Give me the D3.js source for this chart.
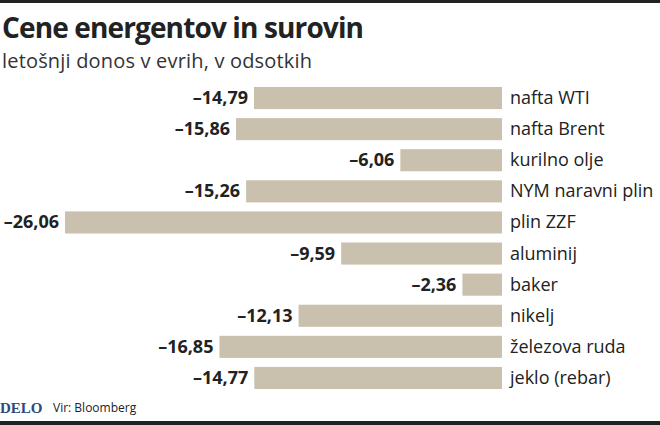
<!DOCTYPE html>
<html><head><meta charset="utf-8">
<script src="https://cdn.jsdelivr.net/npm/d3@7"></script>
<style>body{margin:0;background:#fff}</style>
</head><body>
<svg id="chart"></svg>
<script>
const categories = ["nafta WTI", "nafta Brent", "kurilno olje", "NYM naravni plin", "plin ZZF", "aluminij", "baker", "nikelj", "železova ruda", "jeklo (rebar)"];
const values = [-14.79, -15.86, -6.06, -15.26, -26.06, -9.59, -2.36, -12.13, -16.85, -14.77];

const width = 660, height = 425;
const svg = d3.select("#chart").attr("width", width).attr("height", height);
const font = "'Open Sans', sans-serif";

svg.append("rect").attr("x", 0).attr("y", 0).attr("width", width).attr("height", 3).attr("fill", "#222");
svg.append("rect").attr("x", 0).attr("y", 421).attr("width", width).attr("height", 4).attr("fill", "#222");

svg.append("text").attr("x", 2).attr("y", 38).text("Cene energentov in surovin")
  .style("font-family", font).style("font-weight", 700).style("font-size", "28px").attr("fill", "#222").attr("textLength", 362);
svg.append("text").attr("x", 2).attr("y", 68).text("letošnji donos v evrih, v odsotkih")
  .style("font-family", font).style("font-size", "20px").attr("fill", "#333").attr("textLength", 310);

const x = d3.scaleLinear().domain([-26.06, 0]).range([65, 502]);
const y = d3.scaleBand().domain(categories).range([82.5, 393.5]).paddingInner(0.29).paddingOuter(0.145);

const g = svg.append("g");
g.selectAll("rect.bar").data(values).enter().append("rect")
  .attr("class", "bar")
  .attr("x", d => x(d)).attr("width", d => x(0) - x(d))
  .attr("y", (d, i) => y(categories[i])).attr("height", y.bandwidth())
  .attr("fill", "#c9c0ae");

g.selectAll("text.val").data(values).enter().append("text")
  .attr("x", d => x(d) - 6).attr("y", (d, i) => y(categories[i]) + y.bandwidth() / 2 + 6)
  .attr("text-anchor", "end")
  .text(d => "–" + Math.abs(d).toFixed(2).replace(".", ","))
  .style("font-family", font).style("font-weight", 700).style("font-size", "18px").attr("fill", "#222");

g.selectAll("text.cat").data(categories).enter().append("text")
  .attr("x", x(0) + 8).attr("y", d => y(d) + y.bandwidth() / 2 + 6)
  .text(d => d)
  .style("font-family", font).style("font-size", "18px").attr("fill", "#222");

svg.append("text").attr("x", 0).attr("y", 413).text("DELO")
  .style("font-family", "'Liberation Serif', serif").style("font-weight", 700).style("font-size", "15px").attr("fill", "#2c4a7c");
svg.append("text").attr("x", 53).attr("y", 412).text("Vir: Bloomberg")
  .style("font-family", "'Open Sans', sans-serif").style("font-size", "12px").attr("fill", "#222");
</script>
</body></html>
